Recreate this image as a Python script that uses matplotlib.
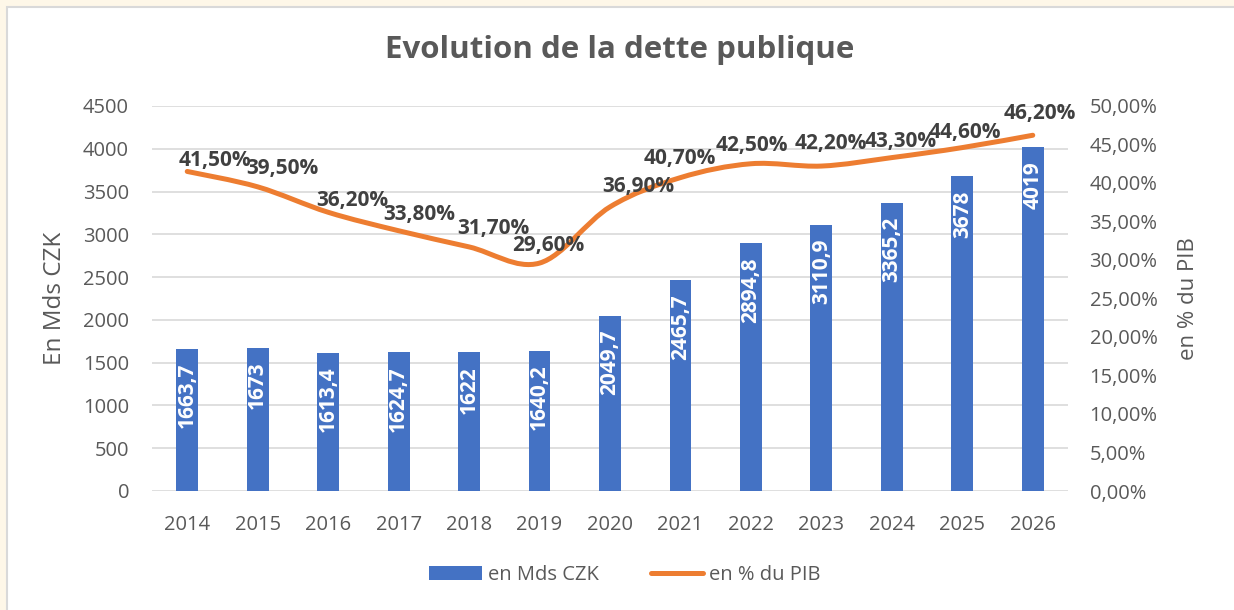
import matplotlib
matplotlib.use("Agg")
import matplotlib.pyplot as plt
from matplotlib.path import Path
from matplotlib.patches import PathPatch, Rectangle
from matplotlib.lines import Line2D
import numpy as np

years = ["2014", "2015", "2016", "2017", "2018", "2019", "2020",
         "2021", "2022", "2023", "2024", "2025", "2026"]
dette_mds = [1663.7, 1673, 1613.4, 1624.7, 1622, 1640.2, 2049.7,
             2465.7, 2894.8, 3110.9, 3365.2, 3678, 4019]
dette_pib = [41.5, 39.5, 36.2, 33.8, 31.7, 29.6, 36.9,
             40.7, 42.5, 42.2, 43.3, 44.6, 46.2]
bar_labels = ["1663,7", "1673", "1613,4", "1624,7", "1622", "1640,2", "2049,7",
              "2465,7", "2894,8", "3110,9", "3365,2", "3678", "4019"]
# label offsets in pixels (dx, dy)
pib_label_offsets = [(28, 11), (25, 18), (24, 12), (21, 16), (24, 18), (9, 18),
                     (28, 20), (-1, 19), (1, 18), (9, 23), (9, 16), (3, 15), (7, 22)]

FONT = "Open Sans"
TXT = "#595959"
BLUE = "#4472C4"
ORANGE = "#ED7D31"
GRID = "#D9D9D9"
plt.rcParams["font.family"] = [FONT, "DejaVu Sans"]

W, H = 1234, 610
fig = plt.figure(figsize=(W / 100, H / 100), dpi=100, facecolor="#FEF7E8")
bg = Rectangle((7, -5), W, H - 7 + 5, transform=None,
               facecolor="white", edgecolor=GRID, lw=1.5, zorder=-10)
fig.patches.append(bg)

ax = fig.add_axes([152 / W, 1 - 491 / H, (1068 - 152) / W, (491 - 106) / H])
ax.set_facecolor("none")
x = np.arange(len(years))
ax.bar(x, dette_mds, width=0.31, color=BLUE, zorder=2)
ax.set_xlim(-0.5, len(years) - 0.5)
ax.set_ylim(0, 4500)
ax.set_yticks(np.arange(0, 4501, 500))
ax.set_xticks(x)
ax.set_xticklabels(years)
ax.grid(axis="y", color=GRID, lw=1.2, zorder=0)
ax.set_axisbelow(True)
for s in ax.spines.values():
    s.set_visible(False)
ax.tick_params(length=0, labelsize=14.5, colors=TXT)
ax.tick_params(axis="y", pad=16.5)
ax.tick_params(axis="x", pad=17)

for xi, v, lab in zip(x, dette_mds, bar_labels):
    ax.annotate(lab, (xi, v), xytext=(0, -10), textcoords="offset points",
                ha="center", va="top", rotation=90, color="white",
                fontsize=15, fontweight="bold", zorder=3)

ax2 = ax.twinx()
ax2.set_ylim(0, 50)
ax2.set_yticks(np.arange(0, 50.1, 5))
ax2.set_yticklabels([f"{v:.2f}%".replace(".", ",") for v in np.arange(0, 50.1, 5)])
for s in ax2.spines.values():
    s.set_visible(False)
ax2.tick_params(length=0, labelsize=14.5, colors=TXT, pad=15.5)

# smoothed line (Catmull-Rom -> cubic Bezier)
P = np.column_stack([x, dette_pib]).astype(float)
n = len(P)
verts = [tuple(P[0])]
codes = [Path.MOVETO]
for i in range(n - 1):
    p0 = P[i - 1] if i > 0 else P[i]
    p1 = P[i]
    p2 = P[i + 1]
    p3 = P[i + 2] if i + 2 < n else P[i + 1]
    c1 = p1 + (p2 - p0) / 6
    c2 = p2 - (p3 - p1) / 6
    verts += [tuple(c1), tuple(c2), tuple(p2)]
    codes += [Path.CURVE4] * 3
ax2.add_patch(PathPatch(Path(verts, codes), facecolor="none", edgecolor=ORANGE,
                        lw=3.6, capstyle="round", joinstyle="round", zorder=4))

for xi, v, (dx, dy) in zip(x, dette_pib, pib_label_offsets):
    ax2.annotate(f"{v:.2f}%".replace(".", ","), (xi, v),
                 xytext=(dx * 0.72, dy * 0.72), textcoords="offset points",
                 ha="center", va="center", color="#404040",
                 fontsize=15, fontweight="bold", zorder=5)

fig.text(620 / W, 1 - 50 / H, "Evolution de la dette publique", ha="center",
         va="center", fontsize=22.5, fontweight="bold", color=TXT)
fig.text(55 / W, 1 - 298 / H, "En Mds CZK", ha="center", va="center",
         rotation=90, fontsize=17.5, color=TXT)
fig.text(1188 / W, 1 - 299 / H, "en % du PIB", ha="center", va="center",
         rotation=90, fontsize=16, color=TXT)

handles = [Rectangle((0, 0), 1, 1, facecolor=BLUE),
           Line2D([0], [0], color=ORANGE, lw=3.6, solid_capstyle="round")]
fig.legend(handles, ["en Mds CZK", "en % du PIB"], loc="center",
           bbox_to_anchor=(625 / W, 1 - 575 / H), ncol=2, frameon=False,
           fontsize=14.5, labelcolor=TXT, handlelength=2.6, handleheight=0.7,
           columnspacing=2.6, handletextpad=0.3)

fig.savefig("out.png", dpi=100, facecolor=fig.get_facecolor())
